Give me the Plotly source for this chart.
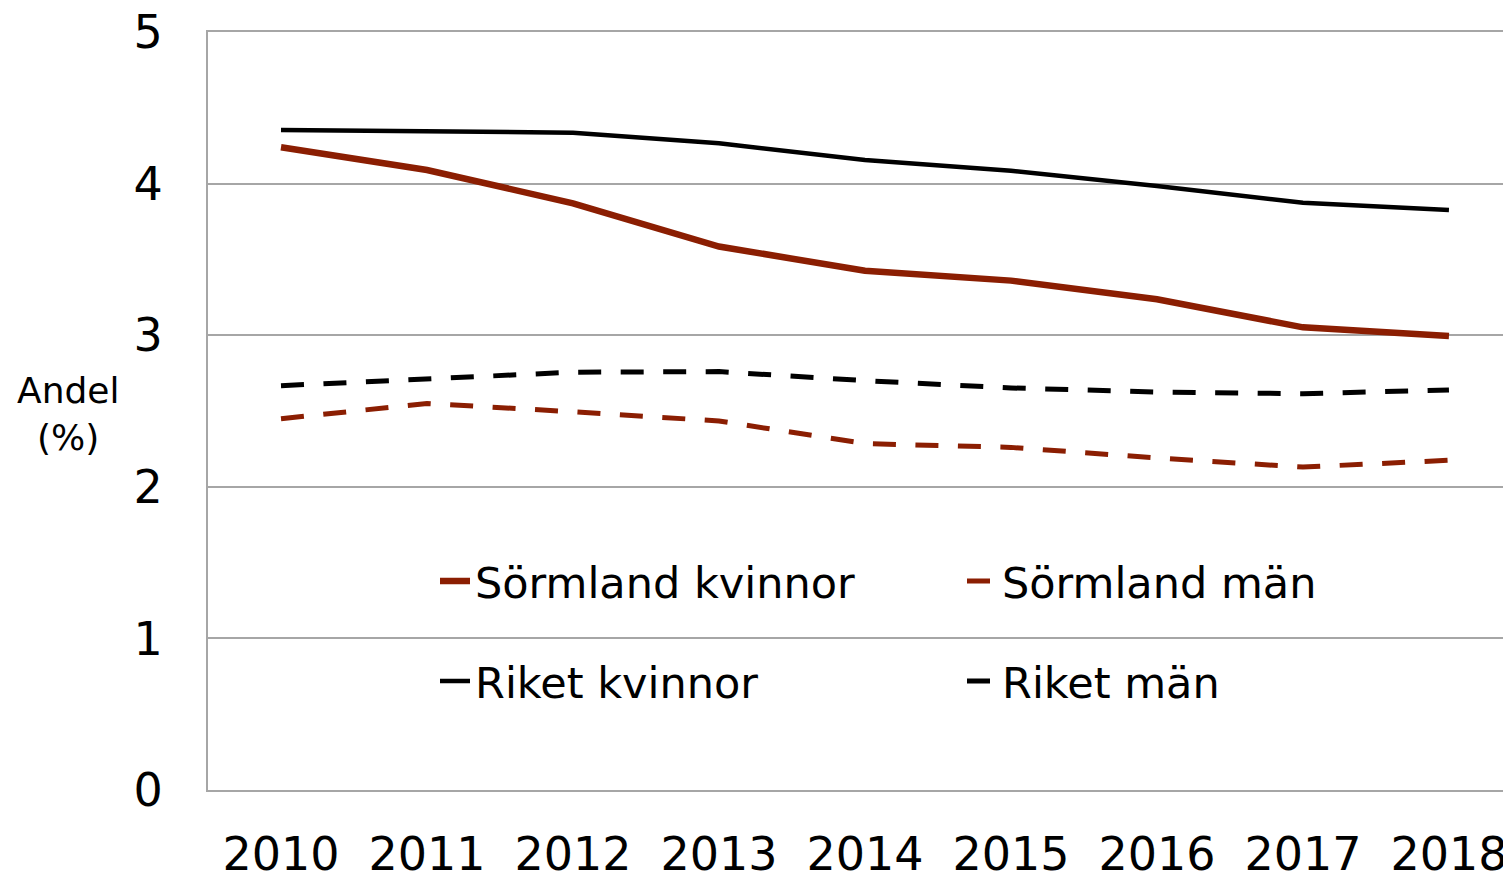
import plotly.graph_objects as go

years = ["2010", "2011", "2012", "2013", "2014", "2015", "2016", "2017", "2018"]
sormland_kvinnor = [4.24, 4.09, 3.87, 3.585, 3.425, 3.36, 3.237, 3.052, 2.995]
sormland_man = [2.449, 2.55, 2.495, 2.434, 2.285, 2.26, 2.19, 2.13, 2.175]
riket_kvinnor = [4.354, 4.345, 4.336, 4.266, 4.156, 4.085, 3.984, 3.874, 3.826]
riket_man = [2.667, 2.715, 2.756, 2.76, 2.70, 2.652, 2.625, 2.614, 2.639]

RED = "#8B1E02"
BLACK = "#000000"
GRID = "#a6a6a6"
FONT = "DejaVu Sans, Verdana, sans-serif"

fig = go.Figure()
fig.add_trace(go.Scatter(x=years, y=sormland_kvinnor, name="Sörmland kvinnor", mode="lines",
                         line=dict(color=RED, width=6.5), legend="legend"))
fig.add_trace(go.Scatter(x=years, y=sormland_man, name="Sörmland män", mode="lines",
                         line=dict(color=RED, width=5, dash="23px,19.5px"), legend="legend"))
fig.add_trace(go.Scatter(x=years, y=riket_kvinnor, name="Riket kvinnor", mode="lines",
                         line=dict(color=BLACK, width=4.5), legend="legend2"))
fig.add_trace(go.Scatter(x=years, y=riket_man, name="Riket män", mode="lines",
                         line=dict(color=BLACK, width=5, dash="23px,19.5px"), legend="legend2"))

legend_common = dict(orientation="h", xref="paper", yref="paper", xanchor="left", yanchor="middle",
                     font=dict(family=FONT, size=43, color="black"), bgcolor="rgba(0,0,0,0)",
                     entrywidth=482, entrywidthmode="pixels", itemwidth=30)

LEG_X = (398 - 208 + 37) / 1303

# The page body has an 8px margin, so the figure is sized to end at the window edge.
fig.update_layout(
    width=1503, height=868,
    margin=dict(l=200, r=0, t=24, b=86, autoexpand=False),
    paper_bgcolor="white", plot_bgcolor="white",
    font=dict(family=FONT, color="black"),
    showlegend=True,
    legend=dict(x=LEG_X, y=(790 - 581) / 758, **legend_common),
    legend2=dict(x=LEG_X, y=(790 - 681) / 758, **legend_common),
    xaxis=dict(type="category", range=[-0.5, 8.425], showgrid=False, showline=True, mirror=True,
               automargin=False, linecolor=GRID, linewidth=2, ticks="",
               tickfont=dict(family=FONT, size=46, color="black"),
               ticklabelstandoff=23, ticklabeloverflow="allow"),
    yaxis=dict(range=[0, 5], dtick=1, showgrid=True, gridcolor=GRID, gridwidth=2, automargin=False,
               showline=True, linecolor=GRID, linewidth=2, zeroline=False, ticks="",
               tickfont=dict(family=FONT, size=46, color="black"), ticklabelstandoff=34,
               ticklabeloverflow="allow"),
    annotations=[dict(text="Andel<br>(%)", xref="paper", yref="y", x=(68 - 208) / 1303, y=2.48,
                      xanchor="center", yanchor="middle", showarrow=False,
                      font=dict(family=FONT, size=36, color="black"))],
)

fig.write_html("out.html")
